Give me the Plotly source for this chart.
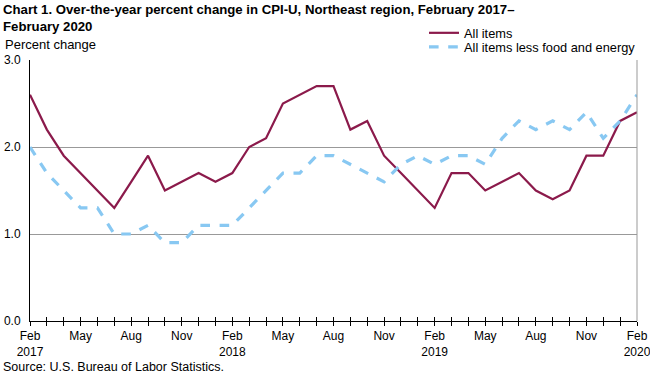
import plotly.graph_objects as go

months = ["Feb 2017","Mar 2017","Apr 2017","May 2017","Jun 2017","Jul 2017","Aug 2017","Sep 2017","Oct 2017","Nov 2017","Dec 2017",
          "Jan 2018","Feb 2018","Mar 2018","Apr 2018","May 2018","Jun 2018","Jul 2018","Aug 2018","Sep 2018","Oct 2018","Nov 2018","Dec 2018",
          "Jan 2019","Feb 2019","Mar 2019","Apr 2019","May 2019","Jun 2019","Jul 2019","Aug 2019","Sep 2019","Oct 2019","Nov 2019","Dec 2019",
          "Jan 2020","Feb 2020"]
all_items = [2.6,2.2,1.9,1.7,1.5,1.3,1.6,1.9,1.5,1.6,1.7,
             1.6,1.7,2.0,2.1,2.5,2.6,2.7,2.7,2.2,2.3,1.9,1.7,
             1.5,1.3,1.7,1.7,1.5,1.6,1.7,1.5,1.4,1.5,1.9,1.9,
             2.3,2.4]
core = [2.0,1.7,1.5,1.3,1.3,1.0,1.0,1.1,0.9,0.9,1.1,
        1.1,1.1,1.3,1.5,1.7,1.7,1.9,1.9,1.8,1.7,1.6,1.8,
        1.9,1.8,1.9,1.9,1.8,2.1,2.3,2.2,2.3,2.2,2.4,2.1,
        2.3,2.6]
tick_text = ["Feb<br>2017","","","May","","","Aug","","","Nov","","",
             "Feb<br>2018","","","May","","","Aug","","","Nov","","",
             "Feb<br>2019","","","May","","","Aug","","","Nov","","",
             "Feb<br>2020"]
y_ticks = [0.0, 1.0, 2.0, 3.0]
y_tick_text = ["0.0", "1.0", "2.0", "3.0"]

FONT = "Liberation Sans, Arial, sans-serif"
L, R, T, B = 30, 13, 60, 53
PW, PH = 650 - L - R, 374 - T - B

def px_x(p):
    return (p - L) / PW

def px_y(p):
    return (374 - B - p) / PH

fig = go.Figure()
fig.add_trace(go.Scatter(x=months, y=all_items, mode="lines", name="All items",
                         line=dict(color="#8B1A4B", width=2.2), legend="legend"))
fig.add_trace(go.Scatter(x=months, y=core, mode="lines", name="All items less food and energy",
                         line=dict(color="#88C8F2", width=3.2, dash="dash"), legend="legend2"))
# invisible trace on overlay axis for inside ticks
fig.add_trace(go.Scatter(x=months, y=core, mode="lines", xaxis="x2", showlegend=False,
                         line=dict(width=0), hoverinfo="skip", opacity=0))

leg_common = dict(xanchor="left", yanchor="middle", bgcolor="rgba(0,0,0,0)",
                  font=dict(size=12.8, family=FONT, color="#000"), borderwidth=0)

fig.update_layout(
    width=650, height=374,
    margin=dict(l=L, r=R, t=T, b=B, autoexpand=False),
    paper_bgcolor="white", plot_bgcolor="white",
    font=dict(family=FONT, size=12, color="#000"),
    showlegend=True,
    legend=dict(x=px_x(424), y=px_y(33), **leg_common),
    legend2=dict(x=px_x(424), y=px_y(47), **leg_common),
    xaxis=dict(type="category", categoryorder="array", categoryarray=months,
               range=[0, 36], tickmode="array", tickvals=months, ticktext=tick_text,
               ticks="outside", ticklen=4, tickcolor="#000", tickwidth=1,
               showline=True, linecolor="#000", linewidth=1, showgrid=False,
               tickfont=dict(size=12, family=FONT), tickangle=0, zeroline=False,
               automargin=False),
    xaxis2=dict(type="category", categoryorder="array", categoryarray=months,
                range=[0, 36], overlaying="x", tickmode="array", tickvals=months,
                ticktext=[""]*len(months), ticks="inside", ticklen=4, tickcolor="#000",
                showline=False, showgrid=False, side="bottom", anchor="y", automargin=False),
    yaxis=dict(range=[0, 3], tickmode="array", tickvals=y_ticks, ticktext=y_tick_text,
               showgrid=True, gridcolor="#999", gridwidth=1,
               showline=True, linecolor="#000", linewidth=1,
               ticks="", zeroline=False, tickfont=dict(size=12, family=FONT),
               ticklabelstandoff=6, automargin=False),
    shapes=[dict(type="line", xref="paper", yref="paper", x0=1, x1=1, y0=0, y1=1,
                 line=dict(color="#999", width=1))],
    annotations=[
        dict(text="<b>Chart 1. Over-the-year percent change in CPI-U, Northeast region, February 2017–<br>February 2020</b>",
             xref="paper", yref="paper", x=px_x(1), y=px_y(0), xanchor="left", yanchor="top",
             align="left", showarrow=False, font=dict(size=13.2, family=FONT, color="#000")),
        dict(text="Percent change", xref="paper", yref="paper", x=px_x(3), y=px_y(35),
             xanchor="left", yanchor="top", showarrow=False, font=dict(size=13, family=FONT)),
        dict(text="Source: U.S. Bureau of Labor Statistics.", xref="paper", yref="paper",
             x=px_x(1), y=px_y(358), xanchor="left", yanchor="top", showarrow=False,
             font=dict(size=12.5, family=FONT)),
    ],
)
fig.write_html("out.html", config={"displayModeBar": False},
               post_script="document.body.style.margin='0';document.body.style.overflow='hidden';")
